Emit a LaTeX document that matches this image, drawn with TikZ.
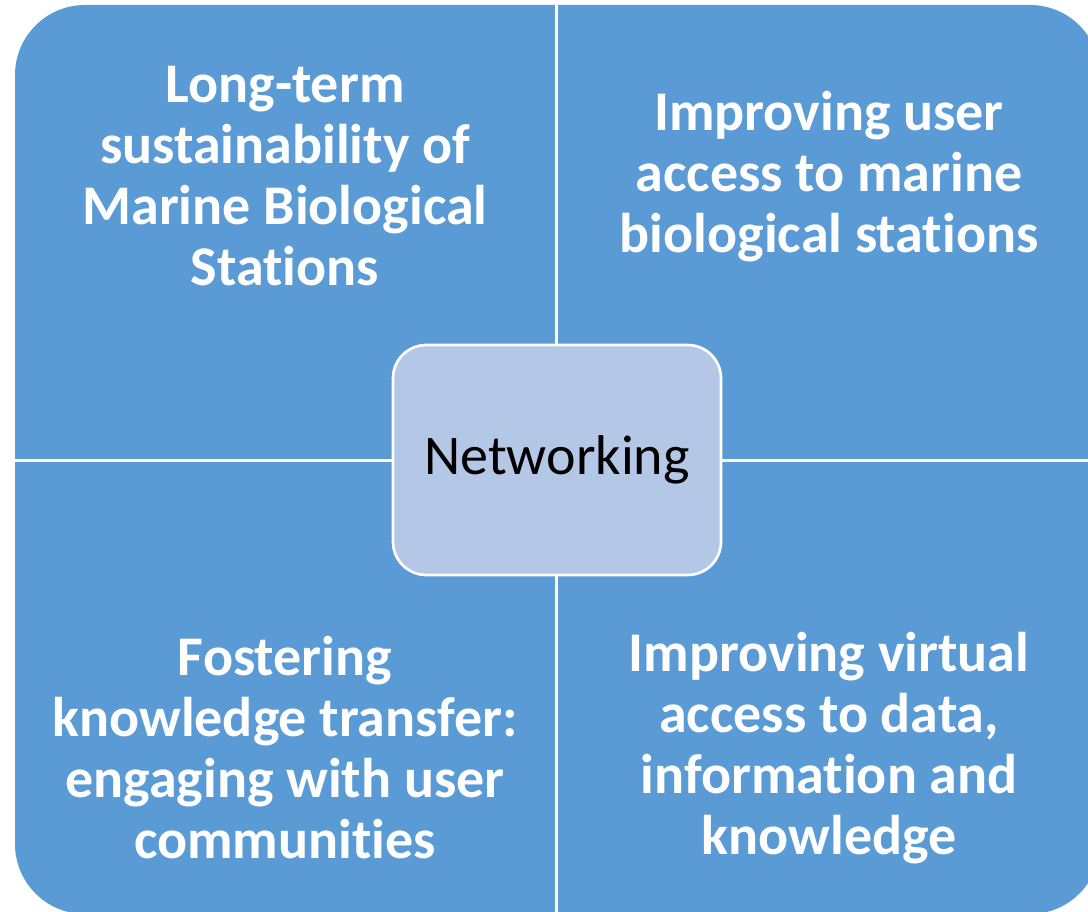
\documentclass[tikz,border=0pt]{standalone}
\usepackage{fontspec}
\setmainfont[Ligatures=NoCommon]{Carlito}
\definecolor{quadblue}{RGB}{91,155,213}
\definecolor{hubblue}{RGB}{180,199,231}

\begin{document}
\begin{tikzpicture}[x=0.75pt, y=-0.75pt,
	quadtext/.style={align=center, text=white, font=\fontsize{42}{45.75}\selectfont\bfseries},
	hub/.style={draw=white, line width=2pt, rounded corners=25pt, fill=hubblue, minimum width=246pt, minimum height=172.5pt, font=\fontsize{42}{50}\selectfont}]
				\useasboundingbox (0,0) rectangle (1088,912);
				\fill[quadblue, rounded corners=52.5pt] (15,5) rectangle (1100,914);
				\coordinate (top) at (556,0);
				\coordinate (bottom) at (556,920);
				\coordinate (left) at (0,460);
				\coordinate (right) at (1100,460);
				\draw[white, line width=2.25pt] (top) -- (bottom);
				\draw[white, line width=2.25pt] (left) -- (right);
				\node[quadtext] (sustain) at (285,176) {Long-term\\sustainability of\\Marine Biological\\Stations};
				\node[quadtext] (access) at (829,177) {Improving user\\access to marine\\biological stations};
				\node[quadtext] (transfer) at (285,748) {Fostering\\knowledge transfer:\\engaging with user\\communities};
				\node[quadtext] (virtual) at (829,748) {Improving virtual\\access to data,\\information and\\knowledge};
				\node[hub] (net) at (557,460) {Networking};
			\end{tikzpicture}
\end{document}
